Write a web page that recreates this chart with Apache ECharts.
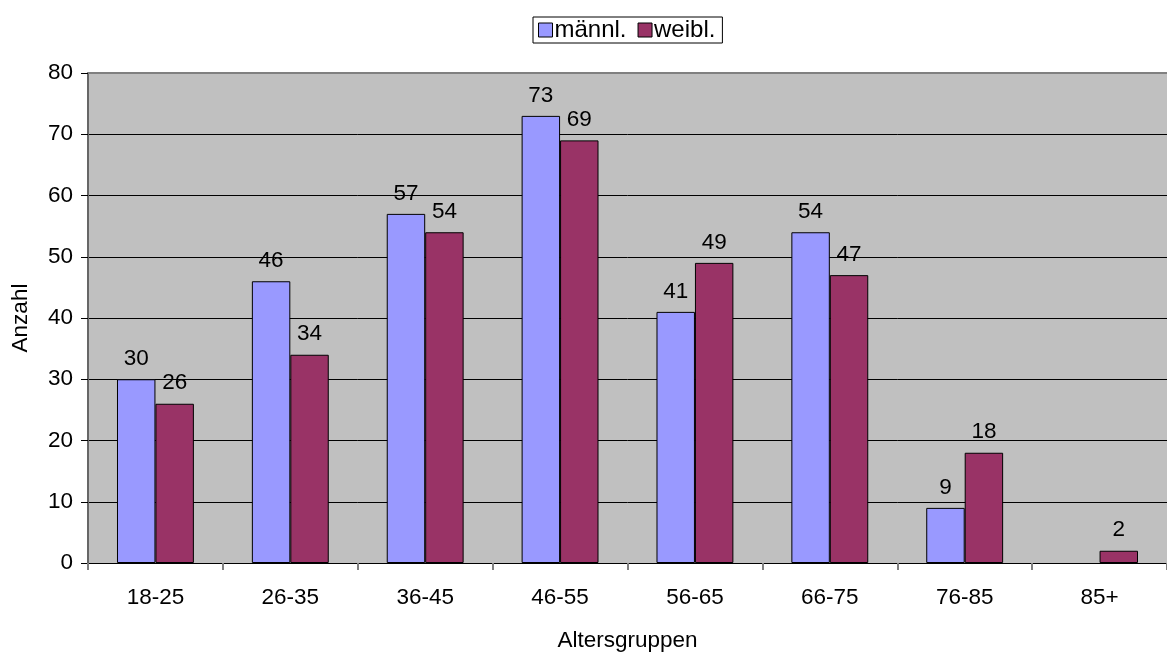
<!DOCTYPE html>
<html>
<head>
<meta charset="utf-8">
<script src="https://cdn.jsdelivr.net/npm/echarts@6/dist/echarts.min.js"></script>
<style>
  html, body { margin: 0; padding: 0; background: #ffffff; }
  #chart { width: 1167px; height: 657px; }
</style>
</head>
<body>
<div id="chart"></div>
<script>
// Altersgruppen und Anzahl je Geschlecht
const categories = ['18-25', '26-35', '36-45', '46-55', '56-65', '66-75', '76-85', '85+'];
const maennlich = [30, 46, 57, 73, 41, 54, 9, null];
const weiblich = [26, 34, 54, 69, 49, 47, 18, 2];
const yTicks = { min: 0, max: 80, interval: 10 };

const font = 'Liberation Sans, Arial, sans-serif';
const fs = 22.5;

const chart = echarts.init(document.getElementById('chart'), null, { renderer: 'canvas' });

const labelStyle = {
  show: true,
  position: 'top',
  distance: 9,
  color: '#000',
  fontSize: fs,
  fontFamily: font
};

chart.setOption({
  animation: false,
  textStyle: { fontFamily: font },
  legend: {
    top: 17,
    left: 533,
    orient: 'horizontal',
    itemWidth: 14,
    itemHeight: 14,
    itemGap: 11,
    padding: [1, 7, 1, 5],
    borderColor: '#000',
    borderWidth: 1,
    icon: 'rect',
    textStyle: { fontSize: 24, color: '#000', fontFamily: font, padding: [0, 0, 0, -3] },
    itemStyle: { borderColor: '#000', borderWidth: 1 },
    data: ['männl.', 'weibl.']
  },
  grid: {
    left: 88,
    top: 73,
    width: 1084,
    height: 495,
    show: true,
    backgroundColor: '#C0C0C0',
    borderWidth: 0
  },
  xAxis: [
    {
      type: 'category',
      data: categories,
      position: 'bottom',
      name: 'Altersgruppen',
      nameLocation: 'middle',
      nameGap: 66,
      nameTextStyle: { fontSize: fs, color: '#000', fontFamily: font },
      axisLine: { show: true, lineStyle: { color: '#000', width: 1 } },
      axisTick: { show: true, length: 7, lineStyle: { color: '#808080', width: 2 } },
      axisLabel: { fontSize: fs, color: '#000', margin: 23, fontFamily: font }
    },
    {
      type: 'category',
      data: categories,
      position: 'top',
      axisLine: { show: true, lineStyle: { color: '#808080', width: 2 } },
      axisTick: { show: false },
      axisLabel: { show: false }
    }
  ],
  yAxis: {
    type: 'value',
    min: yTicks.min,
    max: yTicks.max,
    interval: yTicks.interval,
    name: 'Anzahl',
    nameLocation: 'middle',
    nameGap: 56,
    nameRotate: 90,
    nameTextStyle: { fontSize: fs, color: '#000', fontFamily: font },
    axisLine: { show: true, lineStyle: { color: '#666666', width: 2 } },
    axisTick: { show: true, length: 7, lineStyle: { color: '#000', width: 1 } },
    axisLabel: { fontSize: fs, color: '#000', margin: 15, fontFamily: font },
    splitLine: { show: true, lineStyle: { color: '#000', width: 1 } }
  },
  series: [
    {
      name: 'männl.',
      type: 'bar',
      data: maennlich,
      barGap: '0%',
      barCategoryGap: '43%',
      itemStyle: { color: '#9999FF', borderColor: '#000', borderWidth: 1 },
      label: labelStyle
    },
    {
      name: 'weibl.',
      type: 'bar',
      data: weiblich,
      itemStyle: { color: '#993366', borderColor: '#000', borderWidth: 1 },
      label: labelStyle
    }
  ]
});
</script>
</body>
</html>
